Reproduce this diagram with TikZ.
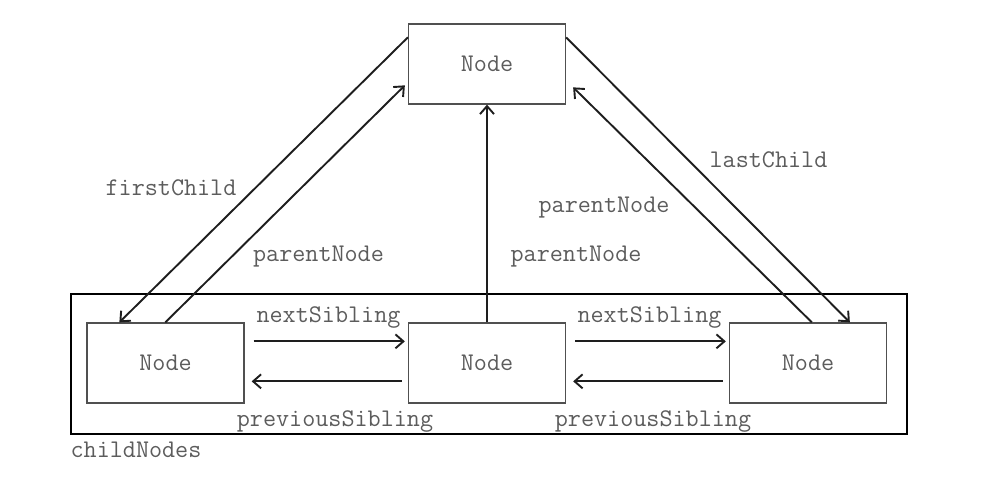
\documentclass[tikz,border=0pt]{standalone}
\usetikzlibrary{arrows.meta,calc}
\definecolor{labelgray}{HTML}{5C5C5C}
\definecolor{boxgray}{HTML}{505050}
\definecolor{linedark}{HTML}{1E1E1E}
\begin{document}
\begin{tikzpicture}[x=1pt,y=-1pt,
  every node/.style={font=\fontsize{25.4}{27}\selectfont\ttfamily, text=labelgray},
  domnode/.style={draw=boxgray, line width=1.3pt, minimum width=157pt, minimum height=80pt, inner sep=0pt},
  link/.style={draw=linedark, line width=1.9pt, -{Straight Barb[length=8pt,width=14pt,line width=1.9pt]}},
  lbl/.style={anchor=base, inner sep=0pt}]
  % canvas
  \useasboundingbox (0,0) rectangle (984,477);

  % group frame around the child nodes
  \node[draw=black, line width=2.8pt, minimum width=836pt, minimum height=140pt, inner sep=0pt] (group) at (489,364) {};
  \node[lbl] (groupname) at (136,457) {childNodes};

  % parent and children
  \node[domnode] (top) at (487,64) {Node};
  \node[domnode] (c1) at (165.5,363) {Node};
  \node[domnode] (c2) at (487,363) {Node};
  \node[domnode] (c3) at (808,363) {Node};

  % parent -> first / last child
  \draw[link] ($(top.north west)+(0,14)$) -- ($(c1.north west)+(33,0)$);
  \draw[link] ($(top.north east)+(0,14)$) -- ($(c3.north west)+(121,0)$);

  % children -> parent
  \draw[link] ($(c1.north west)+(79,0)$) -- ($(top.north west)+(-3,62)$);
  \draw[link] (c2.north) -- (top.south);
  \draw[link] ($(c3.north west)+(83,0)$) -- ($(top.north east)+(7,64)$);

  % sibling links
  \draw[link] ($(c1.north east)+(9,19)$) -- ($(c2.north west)+(-3,19)$);
  \draw[link] ($(c2.north west)+(-6,59)$) -- ($(c1.north east)+(7,59)$);
  \draw[link] ($(c2.north east)+(9,19)$) -- ($(c3.north west)+(-3,19)$);
  \draw[link] ($(c3.north west)+(-6,59)$) -- ($(c2.north east)+(7,59)$);

  % labels
  \node[lbl] (lfirst) at (171,195) {firstChild};
  \node[lbl] (lpar1) at (318.5,261) {parentNode};
  \node[lbl] (lpar2) at (576,261) {parentNode};
  \node[lbl] (lpar3) at (604,212) {parentNode};
  \node[lbl] (llast) at (768.5,167) {lastChild};
  \node[lbl] (lnext1) at (328.5,322) {nextSibling};
  \node[lbl] (lnext2) at (649.5,322) {nextSibling};
  \node[lbl] (lprev1) at (335,426) {previousSibling};
  \node[lbl] (lprev2) at (653,426) {previousSibling};
\end{tikzpicture}
\end{document}
